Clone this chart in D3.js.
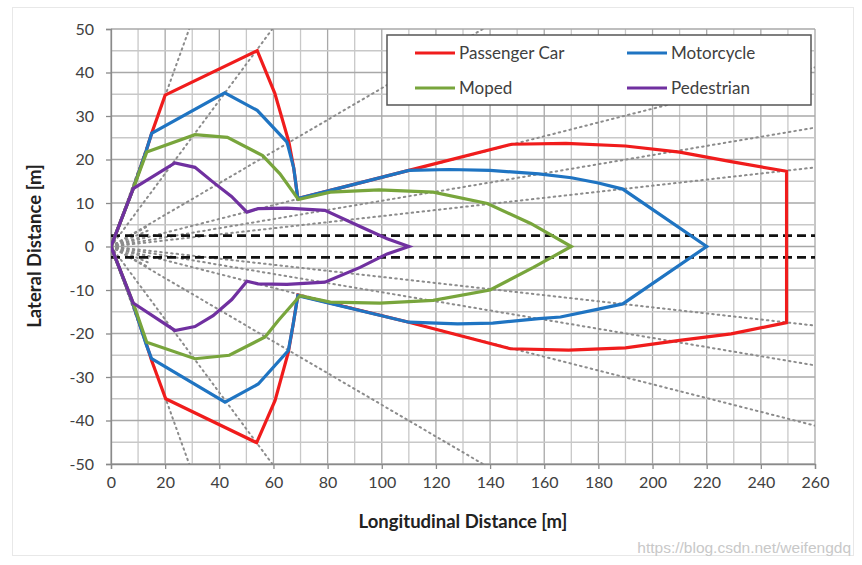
<!DOCTYPE html>
<html><head><meta charset="utf-8">
<script src="https://cdn.jsdelivr.net/npm/d3@7"></script>
<style>
html,body{margin:0;padding:0;background:#fff;}
svg{display:block;}
</style></head>
<body>
<svg id="chart" width="862" height="565"></svg>
<script>
// ---------- data ----------
const seriesNames = ["Passenger Car", "Motorcycle", "Moped", "Pedestrian"];
const seriesColors = ["#f01c1c", "#1f74c2", "#78a53c", "#7030a0"];

const carPts = [[0,0],[8,13],[13,22],[15,26],[20,34.8],[54,45],[60.5,35.2],[65.7,24],[67.5,18],[69,11],
  [110,17.5],[148,23.5],[168,23.7],[190,23.1],[210,21.7],[229,19.5],[249.5,17.3],
  [249.5,-17.5],[229,-20.1],[210,-21.6],[190,-23.3],[169,-23.8],[147.5,-23.5],[110,-17.4],
  [69,-11.2],[67.3,-17.8],[65.5,-24.3],[60.6,-35.4],[53.8,-45.1],[20.2,-35],[15,-26.2],[13,-22.3],[8,-13],[0,0]];

const motoPts = [[0,0],[8,13],[13,22],[15,26],[42,35.3],[54,31.3],[65,24],[67.5,18],[69,11],
  [110,17.5],[125,17.7],[140,17.5],[158,16.7],[170,15.8],[180,14.6],[189,13.2],[220,0],
  [189,-13.2],[180,-14.4],[166,-16.2],[158,-16.6],[141,-17.6],[128,-17.8],[110,-17.4],
  [69,-11.3],[67.3,-17.8],[65.5,-23.9],[54.4,-31.6],[42.1,-35.8],[15,-25.8],[13,-22.5],[8,-13],[0,0]];

const mopedPts = [[0,0],[8.2,13.3],[13.2,21.7],[31,25.7],[43,25.1],[56,20.9],[62.4,16.7],[69.2,10.8],
  [81,12.5],[99,13],[119,12.5],[139,9.9],[155,5.3],[170,0],
  [156,-4.8],[140,-10],[119,-12.4],[99.3,-13],[81,-12.8],[69.8,-11.3],
  [61.8,-17],[56.9,-20.8],[43.7,-25],[31,-25.8],[13.2,-22],[8.2,-13],[0,0]];

const pedPts = [[0,0],[8.2,13.3],[23.6,19.2],[31,18.2],[37.7,14.8],[44.5,11.5],[50.2,7.9],[54.3,8.7],
  [65,8.8],[79,8.3],[92,4.6],[102,1.8],[110,0],
  [102,-1.7],[92,-4.8],[79,-8.2],[65,-8.7],[54.3,-8.6],[50.2,-8],[44.6,-12.2],[37.7,-15.9],
  [31,-18.4],[23.6,-19.3],[8.2,-13],[0,0]];

const seriesPts = [carPts, motoPts, mopedPts, pedPts];

// sensor field-of-view rays (degrees) and short-range fan
const rayAngles = [60, 40, 20, 9, 6, 4, -4, -6, -9, -20, -40, -60];
const fanAngles = [19, 15, 11, -11, -15, -19];
const fanRange = 14;
const laneY = [2.5, -2.5];

const xTicks = d3.range(0, 261, 20);
const yTicks = d3.range(-50, 51, 10);
const xMinor = d3.range(0, 261, 10);
const yMinor = d3.range(-50, 51, 5);

// ---------- layout ----------
const svg = d3.select("#chart");
const x = d3.scaleLinear().domain([0, 260]).range([111, 815]);
const y = d3.scaleLinear().domain([-50, 50]).range([464, 29]);
const font = "Lato, 'Open Sans', sans-serif";

// outer dotted frame
svg.append("rect").attr("x", 12.5).attr("y", 7.5).attr("width", 841).attr("height", 548)
  .attr("fill", "none").attr("stroke", "#d0d0d0").attr("stroke-dasharray", "1,1");

// grid
const grid = svg.append("g");
grid.selectAll(".vm").data(xMinor).join("line")
  .attr("x1", d => x(d)).attr("x2", d => x(d)).attr("y1", y(50)).attr("y2", y(-50))
  .attr("stroke", d => d % 20 === 0 ? "#a8a8a8" : "#c8c8c8").attr("stroke-width", 1.3);
grid.selectAll(".hm").data(yMinor).join("line")
  .attr("x1", x(0)).attr("x2", x(260)).attr("y1", d => y(d)).attr("y2", d => y(d))
  .attr("stroke", d => d % 10 === 0 ? "#a8a8a8" : "#c8c8c8").attr("stroke-width", 1.3);

// axes
const fmt = d => String(d);
const xAxis = d3.axisBottom(x).tickValues(xTicks).tickFormat(fmt).tickSize(5).tickPadding(8);
const yAxis = d3.axisLeft(y).tickValues(yTicks).tickFormat(fmt).tickSize(5).tickPadding(12);
const gx = svg.append("g").attr("transform", `translate(0,${y(-50)})`).call(xAxis);
const gy = svg.append("g").attr("transform", `translate(${x(0)},0)`).call(yAxis);
[gx, gy].forEach(g => {
  g.select(".domain").attr("stroke", "#8a8a8a").attr("stroke-width", 1.3);
  g.selectAll(".tick line").attr("stroke", "#8a8a8a").attr("stroke-width", 1.3);
  g.selectAll(".tick text").attr("fill", "#404040").attr("font-family", font).attr("font-size", 16);
});

// clip
svg.append("clipPath").attr("id", "plotclip").append("rect")
  .attr("x", x(0)).attr("y", y(50)).attr("width", x(260) - x(0)).attr("height", y(-50) - y(50));
const plot = svg.append("g").attr("clip-path", "url(#plotclip)");

// rays
plot.selectAll(".ray").data(rayAngles).join("line")
  .attr("x1", x(0)).attr("y1", y(0))
  .attr("x2", d => x(400 * Math.cos(d * Math.PI / 180)))
  .attr("y2", d => y(400 * Math.sin(d * Math.PI / 180)))
  .attr("stroke", "#8c8c8c").attr("stroke-width", 2).attr("stroke-dasharray", "1.5,4")
  .attr("stroke-linecap", "round");
plot.selectAll(".fan").data(fanAngles).join("line")
  .attr("x1", x(0)).attr("y1", y(0))
  .attr("x2", d => x(fanRange * Math.cos(d * Math.PI / 180)))
  .attr("y2", d => y(fanRange * Math.sin(d * Math.PI / 180)))
  .attr("stroke", "#8c8c8c").attr("stroke-width", 2).attr("stroke-dasharray", "1.5,4")
  .attr("stroke-linecap", "round");

// lane lines
plot.selectAll(".lane").data(laneY).join("line")
  .attr("x1", x(0)).attr("x2", x(260)).attr("y1", d => y(d)).attr("y2", d => y(d))
  .attr("stroke", "#111").attr("stroke-width", 2.6).attr("stroke-dasharray", "9,5");

// series
const line = d3.line().x(d => x(d[0])).y(d => y(d[1]));
plot.selectAll(".series").data(seriesPts).join("path")
  .attr("d", line).attr("fill", "none")
  .attr("stroke", (d, i) => seriesColors[i]).attr("stroke-width", 3.2)
  .attr("stroke-linejoin", "miter");

// axis titles
svg.append("text").attr("x", 463).attr("y", 528).attr("text-anchor", "middle")
  .attr("font-family", font).attr("font-weight", "bold").attr("font-size", 18.5).attr("fill", "#222")
  .text("Longitudinal Distance [m]");
svg.append("text").attr("transform", "translate(41,246) rotate(-90)").attr("text-anchor", "middle")
  .attr("font-family", font).attr("font-weight", "bold").attr("font-size", 18.5).attr("fill", "#222")
  .text("Lateral Distance [m]");

// legend
const lg = svg.append("g");
lg.append("rect").attr("x", 387).attr("y", 35).attr("width", 424).attr("height", 70)
  .attr("fill", "#fff").attr("stroke", "#555").attr("stroke-width", 1.5);
const legPos = [[415, 53], [627, 53], [415, 88], [627, 88]];
seriesNames.forEach((n, i) => {
  const [lx, ly] = legPos[i];
  lg.append("line").attr("x1", lx).attr("x2", lx + 40).attr("y1", ly).attr("y2", ly)
    .attr("stroke", seriesColors[i]).attr("stroke-width", 3.2);
  lg.append("text").attr("x", lx + 44).attr("y", ly + 6).attr("font-family", font)
    .attr("font-size", 17).attr("fill", "#404040").text(n);
});

// watermark
svg.append("text").attr("x", 851).attr("y", 553).attr("text-anchor", "end")
  .attr("font-family", "'Liberation Sans Narrow', 'Liberation Sans', sans-serif")
  .attr("font-size", 15.5).attr("fill", "#c8c8c8").text("https://blog.csdn.net/weifengdq");
</script>
</body></html>
